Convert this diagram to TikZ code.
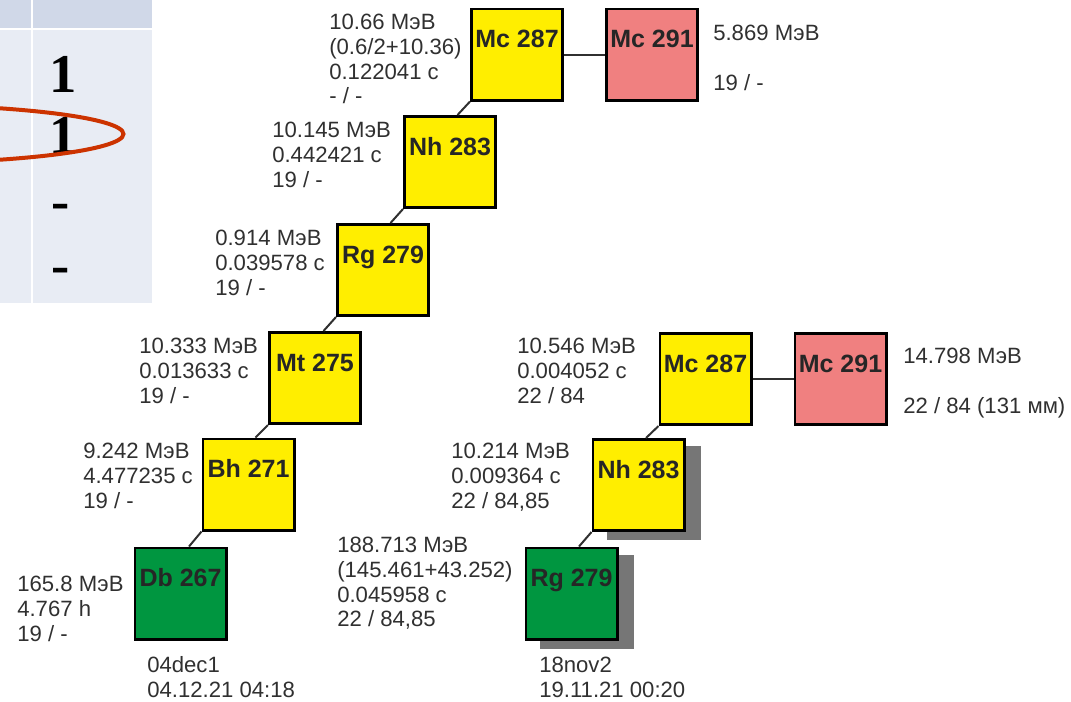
\documentclass[tikz,border=0pt]{standalone}
\usepackage{fontspec}
\setmainfont{Liberation Sans}
\newfontfamily\tabfont{Liberation Serif}
\usetikzlibrary{calc,backgrounds}
\definecolor{nyellow}{RGB}{255,238,0}
\definecolor{npink}{RGB}{240,128,128}
\definecolor{ngreen}{RGB}{0,150,64}
\definecolor{nshadow}{RGB}{118,118,118}
\definecolor{ntext}{RGB}{48,48,48}
\definecolor{nlabel}{RGB}{38,38,38}
\definecolor{thead}{RGB}{208,216,232}
\definecolor{tbody}{RGB}{232,236,244}
\definecolor{ered}{RGB}{204,51,0}
\begin{document}
\begin{tikzpicture}[x=0.75pt,y=-0.75pt,
  nuc/.style={draw=black, line width=2pt, minimum size=68.5pt, inner sep=0pt,
    text height=14pt, text depth=24.5pt,
    font=\bfseries\fontsize{18.75pt}{20pt}\selectfont, text=nlabel},
  yel/.style={nuc, fill=nyellow},
  pnk/.style={nuc, fill=npink},
  grn/.style={nuc, fill=ngreen},
  info/.style={anchor=north west, align=left, inner sep=0pt, text=ntext,
    font=\fontsize{16.6pt}{18.5pt}\selectfont},
  link/.style={draw=ntext, line width=1.5pt},
  tabtxt/.style={anchor=base, inner sep=0pt, text=black,
    font=\tabfont\bfseries\fontsize{41pt}{45pt}\selectfont},
  shade/.style={fill=nshadow}
]
\useasboundingbox (0,0) rectangle (1071,701);
% table
\fill[thead] (0,0) rectangle (31,28);
\fill[thead] (33,0) rectangle (152,28);
\fill[tbody] (0,30) rectangle (31,303);
\fill[tbody] (33,30) rectangle (152,303);
\node[tabtxt] (t1) at (63,92) {1};
\node[tabtxt] (t2) at (63,153) {1};
\node[tabtxt] (t3) at (61,219.6) {-};
\node[tabtxt] (t4) at (61,283.6) {-};
\begin{scope}
  \clip (0,0) rectangle (1071,701);
  \draw[ered, line width=3pt] (-118,134) ellipse [x radius=181.1pt, y radius=22.1pt];
\end{scope}
% nuclei
\node[yel] (mc287a) at (517,54.5) {Mc 287};
\node[pnk] (mc291a) at (652,54.5) {Mc 291};
\node[yel] (nh283a) at (450,162) {Nh 283};
\node[yel] (rg279a) at (383,270) {Rg 279};
\node[yel] (mt275) at (315,378) {Mt 275};
\node[yel] (bh271) at (248.5,484.5) {Bh 271};
\node[grn] (db267) at (180.5,593.5) {Db 267};
\node[yel] (mc287b) at (705.5,379) {Mc 287};
\node[pnk] (mc291b) at (840.5,379) {Mc 291};
\node[yel] (nh283b) at (638.5,485) {Nh 283};
\node[grn] (rg279b) at (571.5,593.5) {Rg 279};
\begin{scope}[on background layer]
  \fill[shade] ($(nh283b.south west)+(15,8)$) rectangle ($(nh283b.north east)+(15,8)$);
  \fill[shade] ($(rg279b.south west)+(15,8)$) rectangle ($(rg279b.north east)+(15,8)$);
\end{scope}
% connectors
\draw[link] (mc287a) -- (mc291a);
\draw[link] (mc287b) -- (mc291b);
\draw[link] (mc287a.south west) -- ($(mc287a.south west |- nh283a.north)+(-12.5,0)$);
\draw[link] (nh283a.south west) -- ($(nh283a.south west |- rg279a.north)+(-12.5,0)$);
\draw[link] (rg279a.south west) -- ($(rg279a.south west |- mt275.north)+(-12.5,0)$);
\draw[link] (mt275.south west) -- ($(mt275.south west |- bh271.north)+(-12.5,0)$);
\draw[link] (bh271.south west) -- ($(bh271.south west |- db267.north)+(-12.5,0)$);
\draw[link] (mc287b.south west) -- ($(mc287b.south west |- nh283b.north)+(-12.5,0)$);
\draw[link] (nh283b.south west) -- ($(nh283b.south west |- rg279b.north)+(-12.5,0)$);
% info texts
\node[info] (i1) at (329,13.5) {\rule{0pt}{12pt}10.66 МэВ\\(0.6/2+10.36)\\0.122041 с\\- / -};
\node[info] (i2) at (272,121.5) {\rule{0pt}{12pt}10.145 МэВ\\0.442421 с\\19 / -};
\node[info] (i3) at (215,229.5) {\rule{0pt}{12pt}0.914 МэВ\\0.039578 с\\19 / -};
\node[info] (i4) at (139,337.5) {\rule{0pt}{12pt}10.333 МэВ\\0.013633 с\\19 / -};
\node[info] (i5) at (83,442.5) {\rule{0pt}{12pt}9.242 МэВ\\4.477235 с\\19 / -};
\node[info] (i6) at (17,575.5) {\rule{0pt}{12pt}165.8 МэВ\\4.767 h\\19 / -};
\node[info] (i7) at (147,656.5) {\rule{0pt}{12pt}04dec1\\04.12.21 04:18};
\node[info] (i8) at (713,24.5) {\rule{0pt}{12pt}5.869 МэВ\\\mbox{}\\19 / -};
\node[info] (i9) at (517,337.5) {\rule{0pt}{12pt}10.546 МэВ\\0.004052 с\\22 / 84};
\node[info] (i10) at (903,347.5) {\rule{0pt}{12pt}14.798 МэВ\\\mbox{}\\22 / 84 (131 мм)};
\node[info] (i11) at (451,442.5) {\rule{0pt}{12pt}10.214 МэВ\\0.009364 с\\22 / 84,85};
\node[info] (i12) at (337,536.5) {\rule{0pt}{12pt}188.713 МэВ\\(145.461+43.252)\\0.045958 с\\22 / 84,85};
\node[info] (i13) at (539,656.5) {\rule{0pt}{12pt}18nov2\\19.11.21 00:20};
\end{tikzpicture}
\end{document}
